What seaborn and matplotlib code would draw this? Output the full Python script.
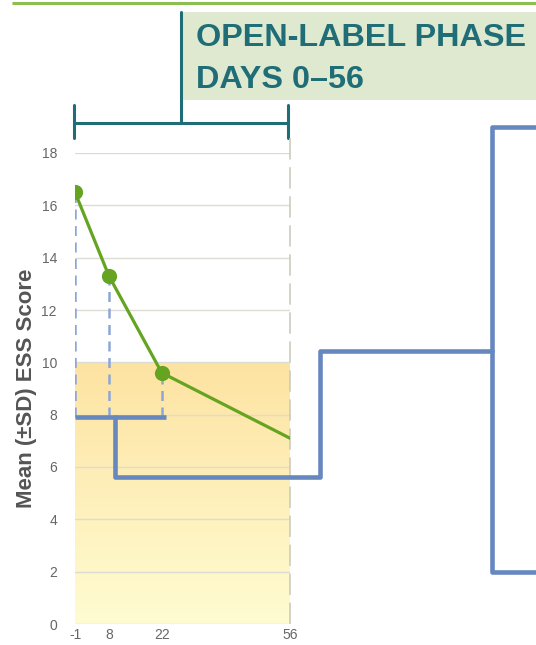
import matplotlib
matplotlib.use("Agg")
import matplotlib.pyplot as plt
from matplotlib.colors import LinearSegmentedColormap
import numpy as np
import pandas as pd
import seaborn as sns

# Mean ESS score by study day, open-label phase
days = [-1, 8, 22, 56]
ess_mean = [16.5, 13.3, 9.6, 7.1]
visit_days = [-1, 8, 22]          # days drawn with a marker
visit_ess = [16.5, 13.3, 9.6]

x_ticks = [-1, 8, 22, 56]
y_ticks = [0, 2, 4, 6, 8, 10, 12, 14, 16, 18]
normal_ess = 10                   # top of the shaded "normal" band

# responder split drawn as a tree (data units)
split_level = 7.9
split_x = [-1, 23]
branch_x = [9.5, 9.5, 64, 64, 109.5]
branch_y = [7.9, 5.6, 5.6, 10.45, 10.45]
fork_x = [125, 109.5, 109.5, 125]
fork_y = [19.0, 19.0, 2.0, 2.0]

title_lines = ["OPEN-LABEL PHASE", "DAYS 0\u201356"]

sns.set_style("white")
plt.rcParams['font.family'] = ['Liberation Sans', 'DejaVu Sans']
plt.rcParams['axes.unicode_minus'] = False

W, H = 536, 645
fig = plt.figure(figsize=(W / 100, H / 100), dpi=100)

# decoration layer in pixel units
deco = fig.add_axes([0, 0, 1, 1], zorder=0)
deco.set_xlim(0, W)
deco.set_ylim(H, 0)
deco.axis('off')
deco.patch.set_alpha(0)

teal = '#1f6d77'
deco.plot([12, W], [2.5, 2.5], color='#8cbf50', lw=2.2, solid_capstyle='butt')
deco.add_patch(plt.Rectangle((182, 12), W - 182, 88, color='#dfe9cf', lw=0))
deco.plot([181, 181], [12, 123], color=teal, lw=2.2)
deco.plot([74, 288], [123, 123], color=teal, lw=2.2)
deco.plot([74, 74], [105, 138], color=teal, lw=2.2)
deco.plot([288, 288], [105, 138], color=teal, lw=2.2)
deco.text(196, 46, title_lines[0], color=teal, fontsize=23.3, fontweight='bold', va='baseline')
deco.text(196, 88, title_lines[1], color=teal, fontsize=23.3, fontweight='bold', va='baseline')

# chart
ax = fig.add_axes([75 / W, (H - 624) / H, 215 / W, (624 - 153) / H], zorder=1)
ax.patch.set_alpha(0)
ax.set_xlim(-1, 56)
ax.set_ylim(0, 18)

# gradient band for the normal range
cmap = LinearSegmentedColormap.from_list('band', ['#fffcd2', '#fde3a2'])
grad = np.linspace(0, 1, 256).reshape(-1, 1)
ax.imshow(grad, extent=[-1, 56, 0, normal_ess], origin='lower', aspect='auto',
          cmap=cmap, zorder=0)

ax.set_axisbelow(True)
ax.yaxis.grid(True, color='#dcdcd4', lw=1.0)
ax.xaxis.grid(False)
sns.despine(ax=ax, left=True, bottom=True)

ax.vlines(56, 0, 18.65, color='#c9c9b6', lw=1.1, linestyles=(0, (14, 5)),
          clip_on=False, zorder=1)

# drops from each visit to the split bar
ax.vlines(visit_days, split_level, visit_ess, color='#8ea6d6', lw=1.8,
          linestyles=(0, (4, 2.6)), zorder=2)

blue = '#6787bf'
ax.plot(split_x, [split_level, split_level], color=blue, lw=3.3, zorder=3,
        solid_capstyle='butt', clip_on=False)
ax.plot(branch_x, branch_y, color=blue, lw=3.3, zorder=3, clip_on=False,
        solid_joinstyle='round')
ax.plot(fork_x, fork_y, color=blue, lw=3.3, zorder=3, clip_on=False,
        solid_joinstyle='round')

df = pd.DataFrame({'day': days, 'ess': ess_mean})
sns.lineplot(data=df, x='day', y='ess', color='#65a420', lw=2.3, ax=ax, zorder=4)
sns.scatterplot(x=visit_days, y=visit_ess, color='#65a420', s=120, linewidth=0,
                ax=ax, zorder=5)

ax.set_xticks(x_ticks)
ax.set_yticks(y_ticks)
ax.tick_params(axis='both', length=0, labelsize=10, labelcolor='#666666')
ax.tick_params(axis='x', pad=3)
ax.tick_params(axis='y', pad=13)
ax.set_xlabel('')
ax.set_ylabel('Mean (\u00b1SD) ESS Score', fontsize=16, fontweight='bold', color='#555555')
ax.yaxis.set_label_coords(-0.176, 0.5)

fig.savefig('out.png', dpi=100, facecolor='white')
